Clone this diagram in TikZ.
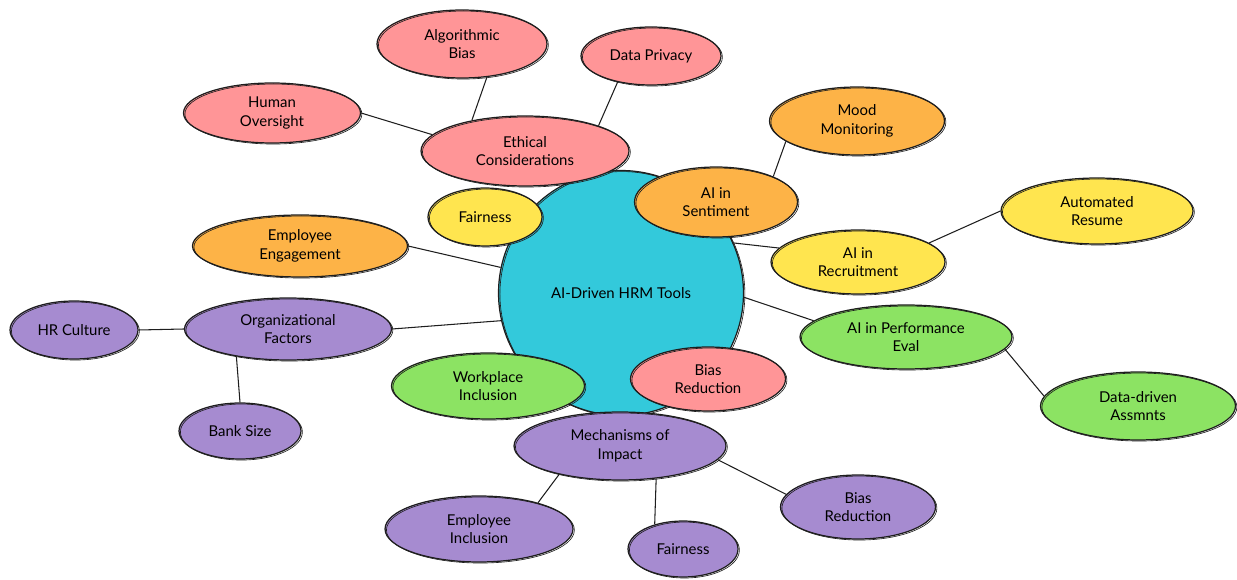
\documentclass[tikz,border=0pt]{standalone}
\usepackage{fontspec}
\setmainfont{Lato}
\usetikzlibrary{shapes.geometric}
\definecolor{inkline}{HTML}{1E1E1E}
\definecolor{hubfill}{HTML}{33C9DB}
\definecolor{pinkfill}{HTML}{FF9597}
\definecolor{orangefill}{HTML}{FDB347}
\definecolor{yellowfill}{HTML}{FFE54F}
\definecolor{greenfill}{HTML}{8CE363}
\definecolor{purplefill}{HTML}{A68BD0}
\tikzset{
    bubble/.style = {ellipse, draw=inkline, line width=0.7pt, inner sep=0pt, align=center,
        font=\fontsize{8.5}{10.5}\selectfont,
        postaction={draw=inkline, line width=0.35pt, transform canvas={xshift=0.8pt, yshift=-0.6pt}}},
    pinkb/.style = {bubble, fill=pinkfill},
    orangeb/.style = {bubble, fill=orangefill},
    yellowb/.style = {bubble, fill=yellowfill},
    greenb/.style = {bubble, fill=greenfill},
    purpleb/.style = {bubble, fill=purplefill},
    link/.style = {draw=inkline, line width=0.6pt}
}

\begin{document}
\begin{tikzpicture}[x=0.02cm, y=-0.02cm]
    \useasboundingbox (0,0) rectangle (1237,580);
    \node[bubble, circle, fill=hubfill, minimum size=4.9cm] (hub) at (621,293) {AI-Driven HRM Tools};

    \node[pinkb, minimum width=3.4cm, minimum height=1.36cm] (algo) at (462,44) {Algorithmic\\Bias};
    \node[pinkb, minimum width=2.8cm, minimum height=1.16cm] (priv) at (651,56) {Data Privacy};
    \node[pinkb, minimum width=3.54cm, minimum height=1.2cm] (human) at (272,113) {Human\\Oversight};
    \node[pinkb, minimum width=4.16cm, minimum height=1.4cm] (ethic) at (525,151) {Ethical\\Considerations};
    \node[yellowb, minimum width=2.28cm, minimum height=1.16cm] (fairY) at (485,217) {Fairness};

    \node[orangeb, minimum width=3.5cm, minimum height=1.36cm] (mood) at (857,121) {Mood\\Monitoring};
    \node[orangeb, minimum width=3.26cm, minimum height=1.4cm] (senti) at (716,202) {AI in\\Sentiment};
    \node[yellowb, minimum width=3.84cm, minimum height=1.32cm] (resume) at (1097,211) {Automated\\Resume};
    \node[yellowb, minimum width=3.48cm, minimum height=1.28cm] (recruit) at (858,262) {AI in\\Recruitment};
    \node[greenb, minimum width=4.24cm, minimum height=1.28cm] (perf) at (906,337) {AI in Performance\\Eval};
    \node[greenb, minimum width=3.9cm, minimum height=1.36cm] (assm) at (1138,406) {Data-driven\\Assmnts};

    \node[orangeb, minimum width=4.3cm, minimum height=1.24cm] (engage) at (300,246) {Employee\\Engagement};
    \node[purpleb, minimum width=4.14cm, minimum height=1.24cm] (org) at (288,329) {Organizational\\Factors};
    \node[purpleb, minimum width=2.56cm, minimum height=1.16cm] (culture) at (74,330) {HR Culture};
    \node[purpleb, minimum width=2.44cm, minimum height=1.12cm] (bank) at (240,431) {Bank Size};

    \node[greenb, minimum width=3.86cm, minimum height=1.32cm] (work) at (488,386) {Workplace\\Inclusion};
    \node[pinkb, minimum width=3.1cm, minimum height=1.28cm] (biasP) at (708,379) {Bias\\Reduction};
    \node[purpleb, minimum width=4.24cm, minimum height=1.36cm] (mech) at (620,446) {Mechanisms of\\Impact};
    \node[purpleb, minimum width=3.76cm, minimum height=1.32cm] (incl) at (479,529) {Employee\\Inclusion};
    \node[purpleb, minimum width=2.2cm, minimum height=1.12cm] (fairP) at (683,549) {Fairness};
    \node[purpleb, minimum width=3.1cm, minimum height=1.28cm] (biasV) at (858,507) {Bias\\Reduction};

    \draw[link] (algo.-53) -- (ethic.150);
    \draw[link] (priv.218) -- (ethic.19);
    \draw[link] (human.east) -- (ethic.170);
    \draw[link] (senti.24) -- (mood.196);
    \draw[link] (hub.24) -- (recruit.170);
    \draw[link] (recruit.15) -- (resume.west);
    \draw[link] (hub.-2) -- (perf.170);
    \draw[link] (perf.-7) -- (assm.174);
    \draw[link] (engage.east) -- (hub.168);
    \draw[link] (org.east) -- (hub.193);
    \draw[link] (culture.east) -- (org.west);
    \draw[link] (org.208) -- (bank.north);
    \draw[link] (mech.205) -- (incl.24);
    \draw[link] (mech.-42) -- (fairP.139);
    \draw[link] (mech.-8) -- (biasV.170);
\end{tikzpicture}
\end{document}
